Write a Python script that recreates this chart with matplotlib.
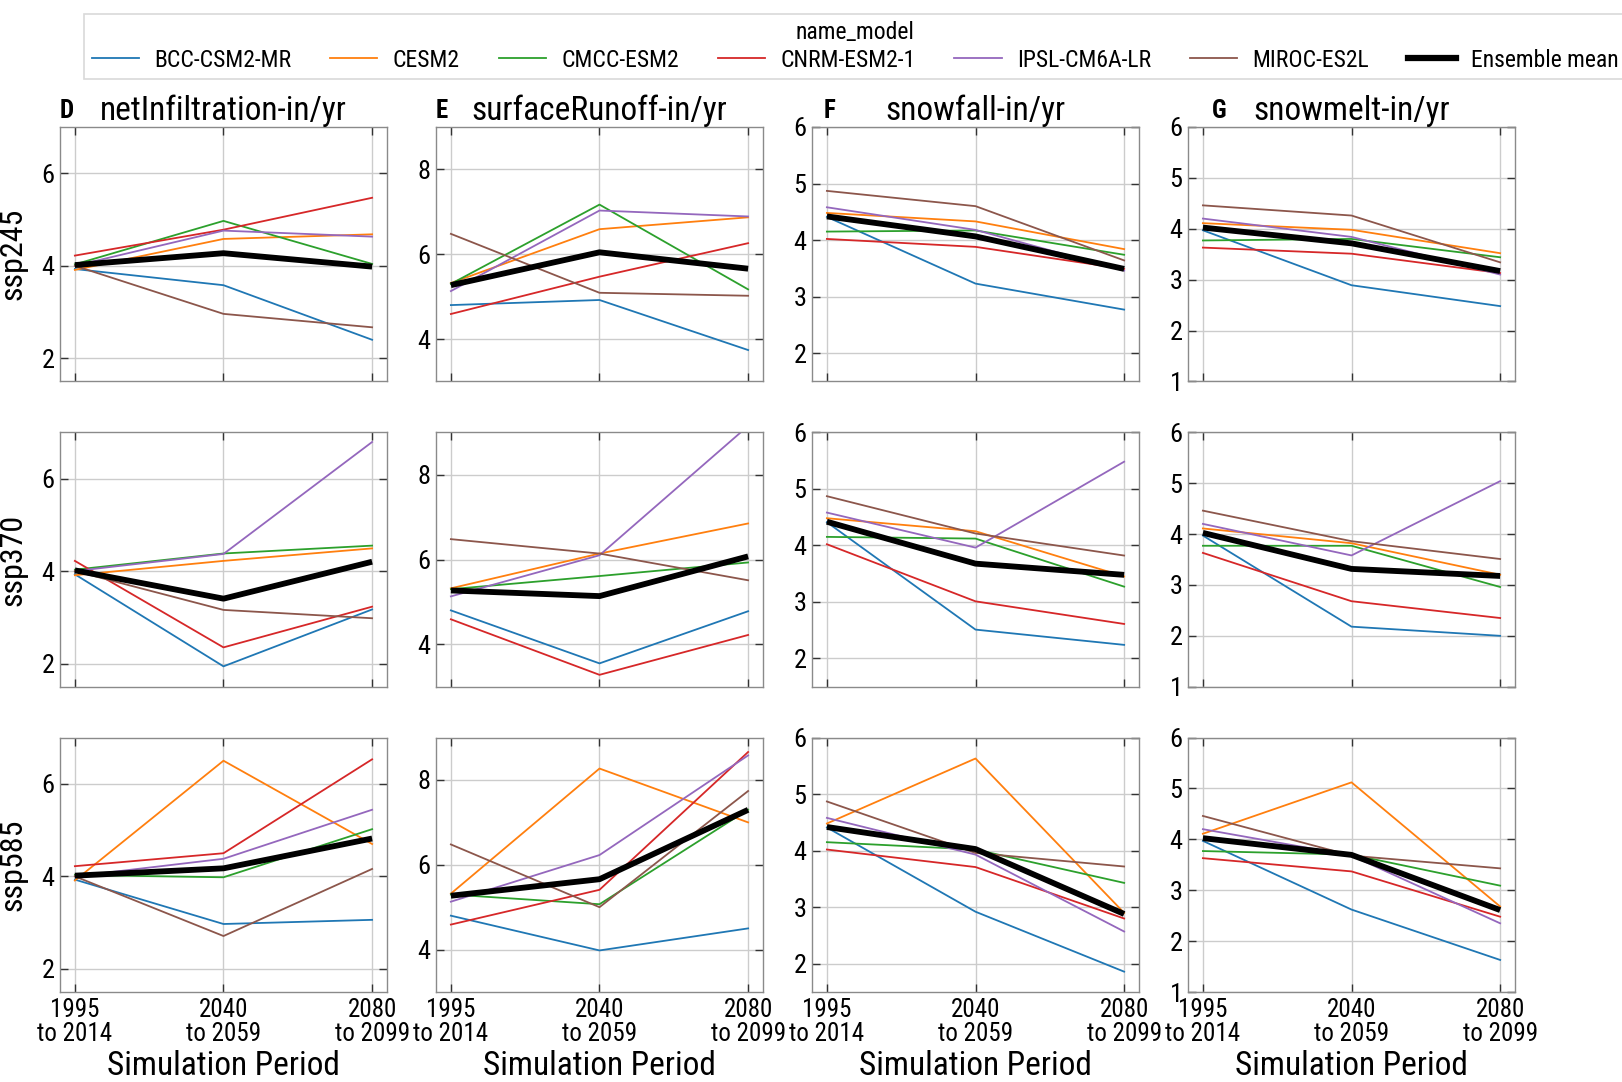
import numpy as np
import matplotlib
matplotlib.use("Agg")
from matplotlib import pyplot as plt
from matplotlib import font_manager
from matplotlib.lines import Line2D

# pick a condensed sans face if one is installed, else Liberation Sans
fm = font_manager.fontManager.ttflist
narrow = None
for name in ["Roboto Condensed", "Liberation Sans Narrow", "Open Sans Condensed",
             "Noto Sans Condensed", "DejaVu Sans Condensed"]:
    if any(f.name == name for f in fm):
        narrow = (name, "normal")
        break
if narrow is None:
    for f in fm:
        if str(f.stretch) in ("condensed", "semi-condensed", "extra-condensed") and \
                f.name in ("Roboto", "Open Sans", "Noto Sans", "DejaVu Sans", "Inter", "Lato"):
            narrow = (f.name, str(f.stretch))
            break
if narrow is None:
    narrow = ("Liberation Sans", "normal")
plt.rcParams['font.family'] = [narrow[0], 'DejaVu Sans']
plt.rcParams['font.stretch'] = narrow[1]

# data
models = ["BCC-CSM2-MR", "CESM2", "CMCC-ESM2", "CNRM-ESM2-1", "IPSL-CM6A-LR", "MIROC-ES2L"]
colors = ["#1f77b4", "#ff7f0e", "#2ca02c", "#d62728", "#9467bd", "#8c564b"]
scenarios = ["ssp245", "ssp370", "ssp585"]
periods = ["1995\nto 2014", "2040\nto 2059", "2080\nto 2099"]
variables = ["netInfiltration-in/yr", "surfaceRunoff-in/yr", "snowfall-in/yr", "snowmelt-in/yr"]
letters = ["D", "E", "F", "G"]

# values per model: [1995-2014, 2040-2059, 2080-2099], one list per scenario
net_infiltration = {
    "ssp245": [[3.93, 3.58, 2.40], [3.91, 4.58, 4.68], [4.03, 4.97, 4.04],
               [4.22, 4.78, 5.47], [4.00, 4.76, 4.63], [4.00, 2.96, 2.67]],
    "ssp370": [[3.93, 1.94, 3.17], [3.91, 4.22, 4.49], [4.03, 4.38, 4.55],
               [4.22, 2.35, 3.23], [4.00, 4.37, 6.79], [4.00, 3.16, 2.98]],
    "ssp585": [[3.93, 2.97, 3.06], [3.91, 6.50, 4.70], [4.03, 3.98, 5.02],
               [4.22, 4.50, 6.53], [4.00, 4.38, 5.44], [4.00, 2.71, 4.16]],
}
surface_runoff = {
    "ssp245": [[4.80, 4.92, 3.74], [5.32, 6.59, 6.87], [5.30, 7.17, 5.17],
               [4.59, 5.47, 6.26], [5.13, 7.03, 6.89], [6.48, 5.09, 5.02]],
    "ssp370": [[4.80, 3.55, 4.78], [5.32, 6.14, 6.85], [5.30, 5.61, 5.93],
               [4.59, 3.28, 4.22], [5.13, 6.10, 9.15], [6.48, 6.14, 5.51]],
    "ssp585": [[4.80, 3.98, 4.50], [5.32, 8.27, 7.00], [5.30, 5.07, 7.30],
               [4.59, 5.41, 8.66], [5.13, 6.23, 8.58], [6.48, 5.00, 7.74]],
}
snowfall = {
    "ssp245": [[4.41, 3.23, 2.77], [4.48, 4.33, 3.84], [4.15, 4.17, 3.74],
               [4.02, 3.88, 3.49], [4.58, 4.18, 3.46], [4.87, 4.60, 3.64]],
    "ssp370": [[4.41, 2.51, 2.24], [4.48, 4.25, 3.45], [4.15, 4.12, 3.27],
               [4.02, 3.01, 2.61], [4.58, 3.96, 5.48], [4.87, 4.21, 3.82]],
    "ssp585": [[4.41, 2.92, 1.86], [4.48, 5.63, 2.90], [4.15, 4.02, 3.43],
               [4.02, 3.71, 2.80], [4.58, 3.93, 2.57], [4.87, 3.96, 3.72]],
}
snowmelt = {
    "ssp245": [[3.97, 2.89, 2.48], [4.11, 3.98, 3.52], [3.77, 3.80, 3.44],
               [3.63, 3.51, 3.13], [4.20, 3.84, 3.10], [4.46, 4.26, 3.34]],
    "ssp370": [[3.97, 2.18, 2.00], [4.11, 3.82, 3.20], [3.77, 3.77, 2.96],
               [3.63, 2.68, 2.35], [4.20, 3.58, 5.04], [4.46, 3.86, 3.51]],
    "ssp585": [[3.97, 2.62, 1.63], [4.11, 5.12, 2.68], [3.77, 3.70, 3.09],
               [3.63, 3.37, 2.48], [4.20, 3.68, 2.35], [4.46, 3.68, 3.43]],
}
all_data = [net_infiltration, surface_runoff, snowfall, snowmelt]
ylims = [(1.5, 7.0), (3.0, 9.0), (1.5, 6.0), (1.0, 6.0)]
yticks = [[2, 4, 6], [4, 6, 8], [2, 3, 4, 5, 6], [1, 2, 3, 4, 5, 6]]

W, H = 1622, 1082
fig = plt.figure(figsize=(W / 100, H / 100), dpi=100)
gs = fig.add_gridspec(3, 4, left=60 / W, right=1515 / W, top=1 - 127 / H,
                      bottom=1 - 992 / H, wspace=0.15, hspace=0.2)
x = np.arange(3)

for c in range(4):
    for r, sc in enumerate(scenarios):
        ax = fig.add_subplot(gs[r, c])
        vals = np.array(all_data[c][sc])
        for m in range(len(models)):
            ax.plot(x, vals[m], color=colors[m], lw=1.3)
        ax.plot(x, vals.mean(axis=0), color="black", lw=4.2, solid_capstyle="butt")
        ax.set_xlim(-0.1, 2.1)
        ax.set_ylim(*ylims[c])
        ax.set_yticks(yticks[c])
        ax.set_xticks(x)
        ax.grid(True, color="#cccccc", lw=1)
        ax.set_axisbelow(True)
        for s in ax.spines.values():
            s.set_color("#8a8a8a")
            s.set_linewidth(1)
        ax.tick_params(direction="in", top=True, right=True, length=6, width=1,
                       color="#333333", labelsize=19, pad=4)
        if r == 2:
            ax.set_xticklabels(periods, fontsize=18, linespacing=1.0)
            ax.set_xlabel("Simulation Period", fontsize=24, labelpad=3)
        else:
            ax.set_xticklabels([])
        if c == 0:
            ax.set_ylabel(sc, fontsize=23)
            ax.yaxis.set_label_coords(-0.098, 0.5)
        if r == 0:
            ax.set_title(variables[c], fontsize=24, pad=4)

# panel letters
letter_x = [60, 436, 824, 1212]
for lx, lt in zip(letter_x, letters):
    fig.text(lx / W, 1 - 118 / H, lt, fontsize=18, fontweight="bold", va="baseline")

handles = [Line2D([], [], color=col, lw=1.3) for col in colors]
handles.append(Line2D([], [], color="black", lw=4.5))
labels = models + ["Ensemble mean"]
leg = fig.legend(handles, labels, ncol=7, title="name_model", loc="upper center",
                 bbox_to_anchor=(855 / W, 1 - 2 / H), fontsize=17, title_fontsize=17,
                 frameon=True, fancybox=False, edgecolor="#d0d0d0",
                 handlelength=2.0, columnspacing=1.65, handletextpad=0.65,
                 borderpad=0.3, labelspacing=0.2)
leg.get_frame().set_linewidth(1.2)

fig.savefig("out.png", dpi=100)
